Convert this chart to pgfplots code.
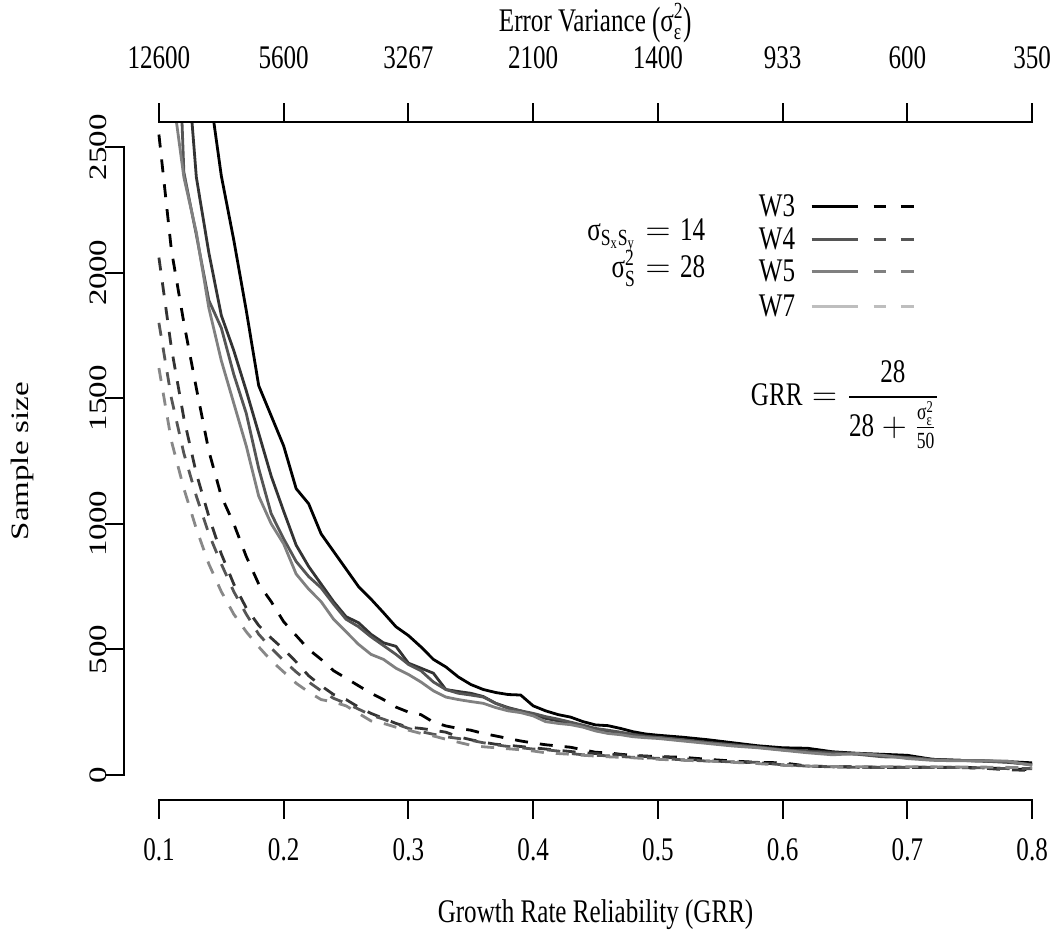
\documentclass[border=0pt]{standalone}
\usepackage{amsmath}
\usepackage{graphicx}
\usepackage{fontspec}
\setmainfont[FakeStretch=0.76]{Liberation Serif}
\newfontfamily\ylabfont{Liberation Serif}
\usepackage{pgfplots}
\usepackage{pgfplotstable}
\pgfplotsset{compat=1.18}

\definecolor{g1}{HTML}{333333}
\definecolor{g2}{HTML}{555555}
\definecolor{g3}{HTML}{808080}
\definecolor{g4}{HTML}{BEBEBE}
\definecolor{d4}{HTML}{888888}

\pgfplotstableread{
x s1 s2 s3 s4 d1 d2 d3 d4
0.10 nan nan nan nan 2550 2060 1800 1620
0.11 nan nan 3730 2750 2090 1700 1500 1330
0.12 nan 3010 2400 2380 1800 1420 1280 1140
0.13 nan 2380 2150 2160 1540 1200 1110 980
0.14 2743 2080 1890 1860 1290 1030 960 840
0.15 2386 1830 1780 1650 1110 880 840 730
0.16 2130 1690 1595 1480 1000 760 730 640
0.17 1850 1530 1440 1310 870 665 640 570
0.18 1550 1360 1220 1110 760 595 560 510
0.19 1430 1190 1040 1000 690 545 505 455
0.20 1310 1050 940 920 610 500 455 410
0.21 1140 915 850 800 555 450 410 365
0.22 1080 830 790 740 500 395 370 330
0.23 960 760 745 690 460 355 335 300
0.24 890 690 680 620 415 320 305 290
0.25 820 630 620 570 385 300 285 275
0.26 750 606 590 520 355 270 262 245
0.27 700 560 550 480 325 245 238 215
0.28 646 526 515 460 300 225 222 205
0.29 590 512 480 425 270 205 203 190
0.30 555 445 440 400 250 190 185 178
0.31 510 425 415 370 240 185 172 165
0.32 460 405 370 335 210 178 162 155
0.33 430 340 340 310 195 170 152 142
0.34 390 332 325 300 185 152 145 130
0.35 360 325 318 292 178 140 138 118
0.36 340 312 310 285 165 130 128 112
0.37 328 285 285 268 155 122 120 108
0.38 320 268 265 255 145 118 113 104
0.39 318 255 255 248 135 113 108 100
0.40 275 240 245 235 127 108 103 95
0.41 255 225 232 212 120 103 100 88
0.42 240 215 222 205 115 98 95 85
0.43 230 205 210 200 110 93 85 82
0.44 212 195 198 190 100 88 80 78
0.45 199 180 185 175 90 85 78 75
0.46 196 175 178 165 88 83 76 72
0.47 185 168 170 160 82 80 73 70
0.48 172 162 160 152 78 76 70 68
0.49 163 155 152 148 75 73 68 65
0.50 158 148 150 145 73 72 66 62
0.52 150 140 140 135 70 65 60 58
0.54 140 130 128 125 62 56 55 55
0.56 128 120 120 115 55 52 52 50
0.58 116 112 110 108 50 48 50 45
0.60 108 100 100 98 48 42 40 38
0.62 106 95 92 88 35 35 35 35
0.64 92 90 86 80 33 32 32 33
0.66 86 84 82 85 32 31 30 32
0.68 82 78 72 78 30 30 30 32
0.70 78 70 70 65 30 30 30 32
0.72 62 62 60 58 30 30 30 32
0.74 58 58 58 56 30 29 30 31
0.76 56 55 56 56 28 27 28 31
0.78 53 50 52 55 25 20 25 30
0.80 48 42 40 38 20 18 25 28
}\data

\tikzset{axl/.style={line width=1pt, black, line cap=rect}}
\newcommand{\ylab}[1]{{\ylabfont\scalebox{1}[0.76]{#1}}}
\newcommand{\ytk}[1]{\draw[axl] (axis cs:0.072,#1) -- ++(-9pt,0pt);
  \node[rotate=90] at ([xshift=-13pt]axis cs:0.072,#1) {\ylab{#1}};}
\newcommand{\btk}[1]{\draw[axl] (axis cs:#1,-100) -- ++(0pt,-9pt);
  \node at ([yshift=-25pt]axis cs:#1,-100) {#1};}
\newcommand{\ttk}[2]{\draw[axl] (axis cs:#1,2600) -- ++(0pt,9pt);
  \node at ([yshift=32pt]axis cs:#1,2600) {#2};}
\newcommand{\leg}[3]{%
  \node[anchor=west,inner sep=0pt] at (axis cs:0.5807,#1) {#3};
  \draw[#2,line width=1.5pt] (axis cs:0.6233,#1) -- (axis cs:0.6602,#1);
  \draw[#2,line width=1.5pt] (axis cs:0.6730,#1) -- (axis cs:0.6827,#1);
  \draw[#2,line width=1.5pt] (axis cs:0.6947,#1) -- (axis cs:0.7051,#1);}

\begin{document}
\begin{tikzpicture}[font=\fontsize{16.5pt}{19.8pt}\selectfont]
\begin{axis}[
  name=ax, scale only axis, width=460.3pt, height=339pt,
  xmin=0.072, xmax=0.81, ymin=-100, ymax=2600,
  hide axis, clip mode=individual, unbounded coords=jump,
  every axis plot/.append style={line width=1.4pt, line join=round, no markers},
]
\addplot[black] table[x=x,y=s1]{\data};
\addplot[g1] table[x=x,y=s2]{\data};
\addplot[g2] table[x=x,y=s3]{\data};
\addplot[g3] table[x=x,y=s4]{\data};
\addplot[black, dash pattern=on 6.5pt off 6pt] table[x=x,y=d1]{\data};
\addplot[g1, dash pattern=on 6.5pt off 6pt] table[x=x,y=d2]{\data};
\addplot[g2, dash pattern=on 6.5pt off 6pt] table[x=x,y=d3]{\data};
\addplot[d4, dash pattern=on 6.5pt off 6pt] table[x=x,y=d4]{\data};

% axes
\draw[axl] (axis cs:0.072,0) -- (axis cs:0.072,2500);
\ytk{0}\ytk{500}\ytk{1000}\ytk{1500}\ytk{2000}\ytk{2500}
\draw[axl] (axis cs:0.1,-100) -- (axis cs:0.8,-100);
\btk{0.1}\btk{0.2}\btk{0.3}\btk{0.4}\btk{0.5}\btk{0.6}\btk{0.7}\btk{0.8}
\draw[axl] (axis cs:0.1,2600) -- (axis cs:0.8,2600);
\ttk{0.1}{12600}\ttk{0.2}{5600}\ttk{0.3}{3267}\ttk{0.4}{2100}
\ttk{0.5}{1400}\ttk{0.6}{933}\ttk{0.7}{600}\ttk{0.8}{350}

\node[inner sep=0pt] at ([yshift=49.5pt]axis cs:0.45,2600) {Error Variance \raisebox{-0.08em}{\scalebox{1}[1.2]{(}}$\text{σ}^{\text{2}}_{\text{ε}}$\raisebox{-0.08em}{\scalebox{1}[1.2]{)}}};
\node at ([yshift=-57.5pt]axis cs:0.45,-100) {Growth Rate Reliability (GRR)};
\node[rotate=90] at ([xshift=-51pt]axis cs:0.072,1250) {\ylab{Sample size}};

% legend
\leg{2265}{black}{W3}
\leg{2133}{g2}{W4}
\leg{2006}{g3}{W5}
\leg{1866}{g4}{W7}

% annotations
\node[anchor=base east,inner sep=0pt] at (axis cs:0.5382,2130)
  {$\text{σ}_{\text{S}_{\scriptscriptstyle\text{x}}\text{S}_{\scriptscriptstyle\text{y}}} = \text{14}$};
\node[anchor=base east,inner sep=0pt] at (axis cs:0.5382,1980)
  {$\text{σ}^{\text{2}}_{\text{S}} = \text{28}$};
\node[anchor=base west,inner sep=0pt] at (axis cs:0.5743,1471)
  {$\text{GRR} = \dfrac{\text{28}}{\text{28} + \frac{\text{σ}^{\text{2}}_{\text{ε}}}{\text{50}}}$};
\end{axis}
\pgfresetboundingbox
\path ([xshift=-62pt,yshift=-65.5pt]ax.south west) rectangle ([xshift=2.7pt,yshift=61pt]ax.north east);
\end{tikzpicture}
\end{document}
